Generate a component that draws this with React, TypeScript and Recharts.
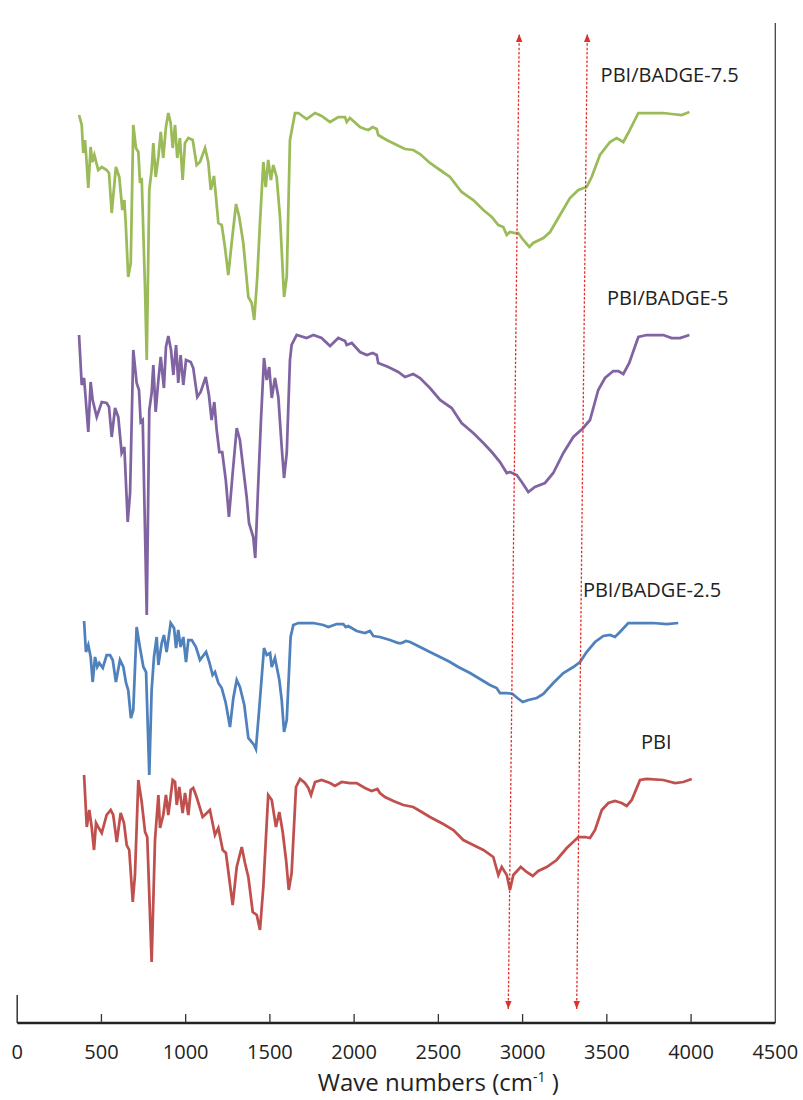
import React from "react";
import { LineChart, Line, XAxis, YAxis, ReferenceLine, ReferenceDot } from "recharts";

// x: wave number (cm-1), y: offset transmittance (arbitrary units, 0-100)
const xTicks = [0, 500, 1000, 1500, 2000, 2500, 3000, 3500, 4000, 4500];

const pbi75: [number, number][] = [
  [367, 90.8], [383, 89.8], [392, 87.0], [402, 88.3], [408, 87.1], [422, 83.5], [436, 87.6], [446, 86.1],
  [458, 86.8], [481, 85.3], [502, 85.6], [531, 85.3], [545, 85.0], [561, 81.0], [586, 85.6], [606, 84.6],
  [624, 81.3], [636, 82.3], [644, 80.0], [659, 74.6], [674, 76.0], [689, 89.8], [705, 87.5], [719, 87.1],
  [729, 84.0], [739, 84.5], [759, 73.3], [769, 66.3], [784, 83.3], [798, 85.3], [808, 88.0], [822, 84.6],
  [838, 86.6], [852, 89.1], [867, 86.5], [883, 89.6], [897, 91.0], [911, 90.0], [923, 87.5], [937, 89.8],
  [950, 86.5], [966, 88.5], [982, 84.3], [996, 88.0], [1016, 88.5], [1042, 88.3], [1065, 85.8], [1085, 86.1],
  [1115, 87.5], [1134, 86.1], [1149, 83.3], [1168, 84.7], [1180, 82.6], [1194, 80.0], [1214, 79.8], [1233, 77.6],
  [1253, 74.8], [1273, 78.0], [1299, 81.9], [1318, 80.6], [1342, 78.0], [1372, 72.6], [1392, 72.0], [1407, 70.3],
  [1425, 74.6], [1441, 80.0], [1461, 86.1], [1475, 83.6], [1490, 86.3], [1506, 84.3], [1520, 85.8], [1540, 84.6],
  [1560, 80.6], [1584, 72.6], [1600, 74.6], [1619, 88.3], [1649, 91.0], [1669, 91.0], [1718, 90.4], [1768, 91.0],
  [1807, 90.7], [1857, 90.1], [1906, 90.6], [1946, 90.6], [1956, 90.1], [1975, 90.5], [2035, 89.6], [2064, 89.4],
  [2084, 89.3], [2110, 89.6], [2134, 89.4], [2143, 88.8], [2193, 88.3], [2253, 87.8], [2302, 87.4], [2351, 87.3],
  [2391, 86.9], [2450, 86.0], [2510, 85.3], [2569, 84.6], [2638, 83.1], [2707, 82.3], [2767, 81.3], [2817, 80.6],
  [2856, 79.8], [2885, 79.6], [2906, 78.8], [2925, 79.1], [2955, 79.0], [2974, 79.0], [3004, 78.3], [3040, 77.6],
  [3063, 78.0], [3123, 78.5], [3163, 79.1], [3222, 80.8], [3281, 82.5], [3331, 83.3], [3380, 83.6], [3410, 84.6],
  [3459, 86.8], [3519, 88.1], [3558, 88.5], [3598, 88.1], [3627, 89.0], [3687, 91.0], [3737, 91.0], [3835, 91.0],
  [3885, 90.9], [3944, 90.8], [3990, 91.1],
];

const pbi5: [number, number][] = [
  [367, 68.8], [383, 63.8], [397, 64.5], [422, 59.1], [436, 64.1], [448, 62.3], [472, 60.6], [502, 62.1],
  [531, 62.0], [545, 61.6], [561, 58.6], [581, 61.5], [600, 60.6], [620, 57.0], [636, 57.6], [656, 50.1],
  [670, 53.0], [689, 67.3], [709, 64.0], [723, 63.3], [733, 60.1], [745, 60.3], [769, 40.8], [784, 61.3],
  [798, 63.0], [808, 65.8], [822, 61.1], [838, 64.3], [852, 66.6], [871, 63.5], [883, 67.6], [897, 68.7],
  [913, 67.3], [927, 64.8], [943, 67.8], [956, 64.0], [970, 66.8], [986, 63.8], [1002, 66.3], [1030, 66.1],
  [1045, 65.5], [1069, 62.6], [1089, 63.1], [1119, 64.6], [1138, 62.8], [1154, 60.3], [1170, 62.1], [1184, 59.3],
  [1200, 57.1], [1217, 57.1], [1238, 54.3], [1257, 50.6], [1279, 55.0], [1303, 59.5], [1322, 58.3], [1338, 56.0],
  [1362, 52.6], [1376, 50.0], [1392, 49.1], [1401, 48.6], [1413, 46.5], [1431, 54.0], [1447, 60.3], [1465, 66.5],
  [1481, 64.3], [1496, 65.6], [1511, 62.5], [1530, 64.5], [1550, 62.6], [1570, 57.6], [1584, 54.5], [1600, 57.0],
  [1619, 66.3], [1629, 67.8], [1659, 68.8], [1718, 68.5], [1758, 68.8], [1807, 68.5], [1857, 67.7], [1906, 68.5],
  [1946, 68.2], [1956, 67.8], [1986, 68.0], [2035, 67.1], [2075, 66.8], [2110, 67.0], [2134, 66.8], [2143, 66.0],
  [2203, 65.6], [2262, 65.1], [2302, 64.6], [2351, 64.9], [2391, 64.5], [2450, 63.5], [2510, 62.3], [2579, 61.5],
  [2638, 60.0], [2707, 59.0], [2767, 58.0], [2817, 57.1], [2866, 56.1], [2906, 55.0], [2925, 55.1], [2965, 54.8],
  [2995, 54.1], [3034, 53.1], [3073, 53.6], [3133, 54.0], [3182, 55.0], [3242, 57.0], [3301, 58.6], [3360, 59.5],
  [3400, 60.3], [3449, 63.3], [3489, 64.5], [3538, 65.2], [3568, 65.2], [3598, 64.9], [3633, 66.0], [3687, 68.6],
  [3737, 68.8], [3835, 68.8], [3885, 68.5], [3934, 68.5], [3990, 68.8],
];

const pbi25: [number, number][] = [
  [397, 40.2], [408, 37.1], [422, 37.8], [436, 36.6], [448, 34.1], [462, 36.6], [475, 35.6], [487, 36.0],
  [508, 35.5], [531, 36.8], [551, 36.8], [567, 36.3], [586, 34.1], [610, 36.3], [630, 35.6], [646, 34.0],
  [659, 33.3], [675, 30.5], [689, 31.3], [709, 39.6], [729, 37.5], [749, 35.6], [765, 35.1], [784, 24.8],
  [798, 33.3], [812, 36.6], [828, 38.6], [838, 35.8], [858, 38.0], [871, 38.8], [887, 37.1], [911, 40.0],
  [931, 39.5], [943, 37.5], [956, 39.3], [970, 37.6], [986, 38.6], [1002, 36.1], [1016, 38.3], [1036, 38.3],
  [1061, 37.6], [1085, 36.3], [1121, 37.1], [1140, 36.1], [1160, 34.8], [1174, 35.1], [1194, 34.0], [1214, 33.5],
  [1238, 32.0], [1263, 29.6], [1283, 32.5], [1303, 34.3], [1322, 33.6], [1348, 31.8], [1372, 28.5], [1392, 28.1],
  [1406, 27.8], [1417, 27.4], [1437, 31.5], [1465, 37.5], [1481, 36.8], [1501, 37.0], [1511, 35.6], [1530, 36.5],
  [1556, 34.3], [1570, 32.3], [1584, 29.1], [1600, 30.3], [1623, 38.6], [1639, 39.8], [1669, 40.0], [1758, 40.0],
  [1817, 39.8], [1847, 39.6], [1896, 39.9], [1936, 39.9], [1950, 39.6], [1965, 39.7], [2015, 39.2], [2064, 39.0],
  [2094, 39.2], [2114, 38.7], [2153, 38.6], [2213, 38.3], [2262, 38.0], [2282, 38.0], [2308, 38.2], [2332, 38.1],
  [2391, 37.6], [2450, 37.1], [2510, 36.6], [2569, 36.1], [2618, 35.6], [2688, 35.0], [2747, 34.4], [2806, 33.8],
  [2846, 33.5], [2866, 33.0], [2906, 33.0], [2941, 32.9], [2969, 32.5], [3001, 32.1], [3034, 32.3], [3084, 32.5],
  [3123, 32.9], [3182, 34.0], [3242, 35.0], [3301, 35.6], [3341, 36.1], [3380, 37.1], [3430, 38.1], [3479, 38.7],
  [3519, 38.8], [3548, 38.6], [3578, 39.1], [3627, 40.0], [3697, 40.0], [3776, 40.0], [3855, 39.9], [3924, 40.0],
];

const pbi: [number, number][] = [
  [397, 24.8], [413, 19.6], [428, 21.3], [442, 19.6], [456, 17.3], [468, 20.0], [481, 19.6], [502, 19.0],
  [531, 20.8], [555, 21.3], [570, 20.8], [591, 18.1], [614, 21.0], [634, 20.0], [650, 17.8], [665, 17.3],
  [686, 12.1], [699, 14.8], [719, 24.3], [739, 22.1], [759, 19.1], [772, 18.6], [798, 6.1], [818, 18.3],
  [838, 22.8], [848, 19.5], [867, 20.8], [883, 22.8], [897, 20.8], [923, 24.3], [937, 24.1], [947, 21.8],
  [962, 23.6], [982, 21.0], [996, 23.0], [1016, 20.8], [1030, 23.3], [1045, 23.5], [1065, 22.6], [1101, 20.6],
  [1144, 21.3], [1174, 18.8], [1194, 19.5], [1220, 17.3], [1239, 17.0], [1279, 11.8], [1303, 15.6], [1333, 17.6],
  [1352, 16.0], [1372, 14.6], [1398, 11.1], [1422, 10.8], [1441, 9.3], [1461, 13.6], [1490, 22.8], [1511, 22.3],
  [1536, 19.6], [1556, 21.1], [1576, 19.1], [1596, 16.3], [1612, 13.3], [1629, 15.0], [1655, 23.6], [1679, 24.4],
  [1708, 24.0], [1728, 23.5], [1744, 22.8], [1768, 24.1], [1807, 24.3], [1857, 24.0], [1886, 23.7], [1926, 24.1],
  [1975, 24.0], [2015, 24.0], [2064, 23.5], [2104, 23.2], [2138, 23.4], [2153, 23.0], [2183, 22.6], [2233, 22.2],
  [2292, 21.8], [2351, 21.6], [2401, 21.1], [2450, 20.6], [2529, 19.9], [2589, 19.3], [2648, 18.3], [2707, 17.8],
  [2767, 17.3], [2826, 16.6], [2856, 14.8], [2876, 15.6], [2906, 14.8], [2925, 13.3], [2945, 14.8], [2989, 15.6],
  [3024, 15.1], [3060, 14.7], [3093, 15.2], [3143, 15.6], [3202, 16.3], [3262, 17.5], [3331, 18.6], [3370, 18.6],
  [3400, 18.5], [3430, 19.3], [3470, 21.3], [3509, 22.0], [3548, 22.2], [3588, 22.0], [3618, 21.7], [3648, 22.3],
  [3697, 24.3], [3737, 24.4], [3835, 24.3], [3905, 24.0], [3954, 24.1], [4004, 24.4],
];

const seriesNames = ["PBI/BADGE-7.5", "PBI/BADGE-5", "PBI/BADGE-2.5", "PBI"];
const seriesColors = ["#9BBB59", "#8064A2", "#4F81BD", "#C0504D"];
const seriesData = [pbi75, pbi5, pbi25, pbi];
// label anchor (left end of text baseline) in data units
const labelPos: [number, number][] = [[3463, 94.1], [3501, 71.8], [3358, 42.6], [3703, 27.4]];

// dotted arrows: [bottom wn, bottom y, top wn, top y]
const arrows: [number, number, number, number][] = [
  [2915, 1.4, 2980, 98.9],
  [3321, 1.4, 3384, 98.9],
];

const FONT = "'Open Sans', sans-serif";

const toRows = (arr: [number, number][]) => arr.map(([wn, t]) => ({ wn, t }));

const Arrow = (props: any) => {
  const { x1, y1, x2, y2 } = props;
  const dx = x2 - x1;
  const dy = y2 - y1;
  const len = Math.sqrt(dx * dx + dy * dy);
  const ux = dx / len;
  const uy = dy / len;
  const head = (tx: number, ty: number, dir: number) => {
    const bx = tx - dir * ux * 8;
    const by = ty - dir * uy * 8;
    const px = -uy * 3.2;
    const py = ux * 3.2;
    return `${tx},${ty} ${bx + px},${by + py} ${bx - px},${by - py}`;
  };
  return (
    <g>
      <line x1={x1} y1={y1} x2={x2} y2={y2} stroke="#E0302A" strokeWidth={1.3} strokeDasharray="2.5 1.8" />
      <polygon points={head(x1, y1, -1)} fill="#E0302A" />
      <polygon points={head(x2, y2, 1)} fill="#E0302A" />
    </g>
  );
};

const Tick = (props: any) => {
  const { x, y, payload } = props;
  const v = payload.value;
  return (
    <g>
      {v > 0 && v < 4500 && <line x1={x} x2={x} y1={y} y2={y - 9} stroke="#333" strokeWidth={1.3} />}
      {v === 0 && <line x1={x} x2={x} y1={y} y2={y - 28} stroke="#333" strokeWidth={1.5} />}
      <text x={x} y={y + 36} textAnchor="middle" fontSize={20} fontFamily={FONT} fill="#222">
        {v}
      </text>
    </g>
  );
};

const Title = (props: any) => {
  const vb = props.viewBox;
  const cx = vb.x + (vb.width * 2500) / 4500;
  return (
    <text x={cx} y={vb.y + 68} textAnchor="middle" fontSize={24} fontFamily={FONT} fill="#222">
      Wave numbers (cm<tspan fontSize={14} dy={-9}>-1</tspan><tspan dy={9}> )</tspan>
    </text>
  );
};

export default function App() {
  return (
    <div style={{ position: "absolute", left: 0, top: 0, width: 803, height: 1100, background: "#fff" }}>
      <LineChart width={803} height={1100} margin={{ top: 23, right: 27.7, bottom: 17, left: 17.2 }}>
        <XAxis
          type="number"
          dataKey="wn"
          domain={[0, 4500]}
          ticks={xTicks}
          interval={0}
          allowDataOverflow
          height={60}
          tickSize={0}
          tickMargin={0}
          tickLine={false}
          tick={<Tick />}
          axisLine={{ stroke: "#222", strokeWidth: 2.7 }}
          label={Title}
        />
        <YAxis type="number" domain={[0, 100]} hide allowDataOverflow />
        <ReferenceLine x={4500} stroke="#444" strokeWidth={1.3} ifOverflow="visible" />
        {seriesData.map((d, i) => (
          <Line
            key={seriesNames[i]}
            name={seriesNames[i]}
            data={toRows(d)}
            dataKey="t"
            type="linear"
            stroke={seriesColors[i]}
            strokeWidth={2.75}
            dot={false}
            activeDot={false}
            isAnimationActive={false}
          />
        ))}
        {arrows.map((a, i) => (
          <ReferenceLine
            key={"arrow" + i}
            segment={[{ x: a[0], y: a[1] }, { x: a[2], y: a[3] }]}
            ifOverflow="visible"
            shape={Arrow}
          />
        ))}
        {labelPos.map((p, i) => (
          <ReferenceDot
            key={"lab" + i}
            x={p[0]}
            y={p[1]}
            r={0}
            ifOverflow="visible"
            shape={(s: any) => (
              <text x={s.cx} y={s.cy} fontSize={20} fontFamily={FONT} fill="#222">
                {seriesNames[i]}
              </text>
            )}
          />
        ))}
      </LineChart>
    </div>
  );
}
